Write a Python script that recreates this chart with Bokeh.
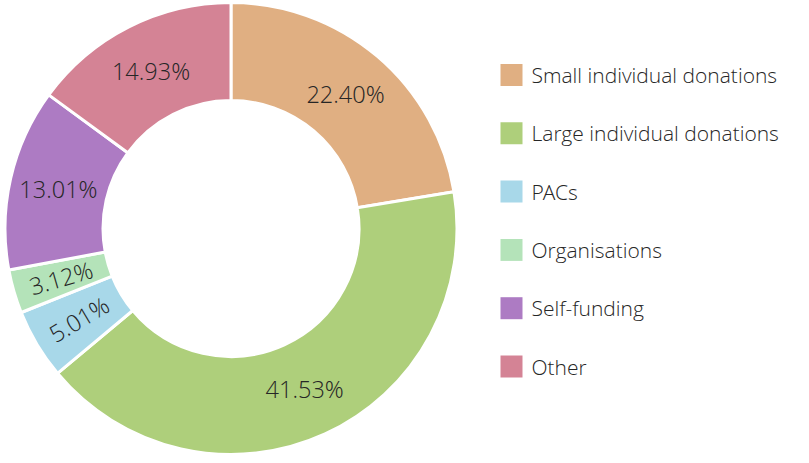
import math
from bokeh.plotting import figure
from bokeh.models import Range1d, ColumnDataSource
from bokeh.core.properties import value
from bokeh.embed import file_html
from bokeh.resources import INLINE

categories = ["Small individual donations", "Large individual donations", "PACs",
              "Organisations", "Self-funding", "Other"]
shares = [22.40, 41.53, 5.01, 3.12, 13.01, 14.93]
colors = ["#E0AF82", "#AECF7B", "#A8D8E9", "#B4E3B9", "#AD7BC3", "#D48395"]
labels = ["22.40%", "41.53%", "5.01%", "3.12%", "13.01%", "14.93%"]

W, H = 809, 463
cx, cy = 230.5, H - 228
r_out, r_in = 226, 128
r_lab = (r_out + r_in) / 2

FONT = value("'Open Sans Light', 'Open Sans'")

total = sum(shares)
starts, ends, lx, ly, lang = [], [], [], [], []
cum = 0.0
for s in shares:
    a0 = math.pi / 2 - 2 * math.pi * cum / total
    a1 = math.pi / 2 - 2 * math.pi * (cum + s) / total
    starts.append(a0)
    ends.append(a1)
    mid = (a0 + a1) / 2
    lx.append(cx + r_lab * math.cos(mid))
    ly.append(cy + r_lab * math.sin(mid))
    if s < 6:
        lang.append(mid - math.pi)
    else:
        lang.append(0.0)
    cum += s

src = ColumnDataSource(dict(start=starts, end=ends, color=colors, lx=lx, ly=ly,
                            lang=lang, label=labels, cat=categories,
                            ky=[H - (74.5 + 58.3 * i) for i in range(len(categories))]))

p = figure(width=W, height=H, output_backend="svg", toolbar_location=None,
           x_range=Range1d(0, W), y_range=Range1d(0, H), min_border=0)
p.axis.visible = False
p.grid.visible = False
p.outline_line_color = None
p.background_fill_color = "white"

p.annular_wedge(x=cx, y=cy, inner_radius=r_in, outer_radius=r_out,
                start_angle="start", end_angle="end", direction="clock",
                fill_color="color", line_color="white", line_width=3, source=src)

p.text(x="lx", y="ly", text="label", angle="lang", source=src,
       text_font=FONT, text_font_size="23.5px", text_color="#262626",
       text_align="center", text_baseline="middle")

p.rect(x=511, y="ky", width=22, height=22, fill_color="color", line_color=None, source=src)
p.text(x=531, y="ky", text="cat", source=src,
       text_font=FONT, text_font_size="21px", text_color="#262626",
       text_align="left", text_baseline="middle")

open("out.html", "w").write(file_html(p, INLINE))
